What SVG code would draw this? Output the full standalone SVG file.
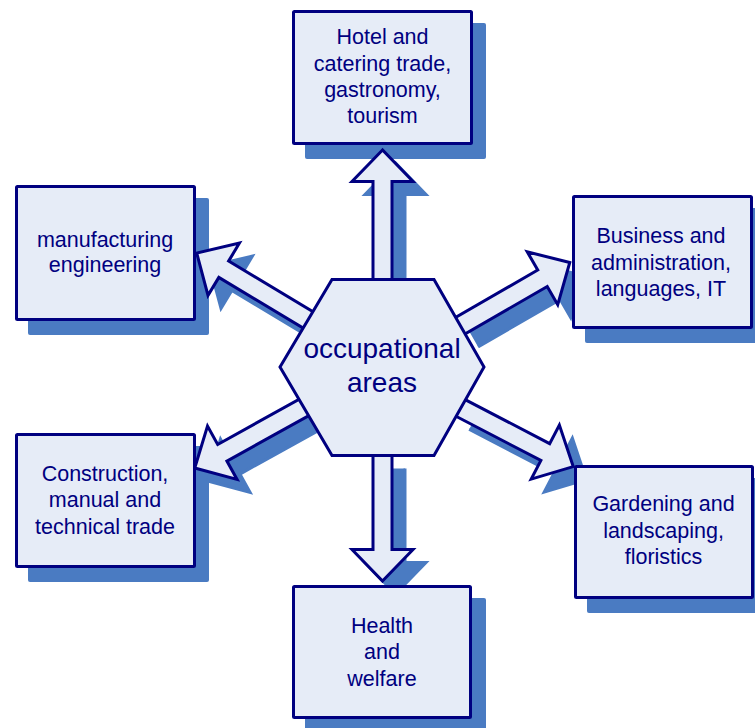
<svg xmlns="http://www.w3.org/2000/svg" xmlns:xlink="http://www.w3.org/1999/xlink" width="755" height="728" viewBox="0 0 755 728">
  <style>
    .box { fill: #E6ECF7; stroke: #000080; stroke-width: 3; }
    .bshadow { fill: #4A7BC2; }
    .arrow { fill: #E6ECF7; stroke: #000080; stroke-width: 3; stroke-linejoin: miter; }
    .ashadow { fill: #4A7BC2; stroke: #4A7BC2; stroke-width: 3; }
    .hex { fill: #E6ECF7; stroke: #000080; stroke-width: 3; stroke-linejoin: miter; }
    text { font-family: "Liberation Sans", Arial, sans-serif; fill: #000080; text-anchor: middle; }
    .lbl { font-size: 21.5px; }
    .center { font-size: 28px; }
  </style>
  <defs>
    <polygon id="arr" points="-2,0 -33.5,-30.5 -33.5,-9.5 -230,-9.5 -230,9.5 -33.5,9.5 -33.5,30.5"/>
    <clipPath id="outside" clipPathUnits="userSpaceOnUse">
      <path clip-rule="evenodd" d="M-50 -50H805V778H-50Z M280 367 L332 279.5 L434 279.5 L484 367 L434 455.5 L332 455.5 Z"/>
    </clipPath>
    <g id="arrows">
      <use xlink:href="#arr" transform="translate(382.5,148) rotate(-90)"/>
      <use xlink:href="#arr" transform="translate(382.5,583) rotate(90)"/>
      <use xlink:href="#arr" transform="translate(571.5,261.5) rotate(-30)"/>
      <use xlink:href="#arr" transform="translate(575,467.5) rotate(27.5)"/>
      <use xlink:href="#arr" transform="translate(193,469) rotate(151)"/>
      <use xlink:href="#arr" transform="translate(195,252) rotate(211)"/>
    </g>
  </defs>

  <g id="shadows">
    <rect class="bshadow" x="305" y="23" width="181" height="136" rx="2"/>
    <rect class="bshadow" x="28" y="198" width="181" height="137" rx="2"/>
    <rect class="bshadow" x="585" y="208" width="181" height="135" rx="2"/>
    <rect class="bshadow" x="28" y="446" width="181" height="136" rx="2"/>
    <rect class="bshadow" x="587" y="478" width="181" height="135" rx="2"/>
    <rect class="bshadow" x="305" y="598" width="181" height="135" rx="2"/>
  </g>

  <g id="connectors">
    <use xlink:href="#arrows" class="ashadow" clip-path="url(#outside)" transform="translate(13,13)"/>
    <use xlink:href="#arrows" class="arrow" clip-path="url(#outside)"/>
  </g>

  <g id="node-hotel">
    <rect class="box" x="293.5" y="11.5" width="178" height="132" rx="1"/>
    <text class="lbl" x="382.5" y="44">Hotel and</text>
    <text class="lbl" x="382.5" y="70.5">catering trade,</text>
    <text class="lbl" x="382.5" y="97">gastronomy,</text>
    <text class="lbl" x="382.5" y="123">tourism</text>
  </g>

  <g id="node-manufacturing">
    <rect class="box" x="16.5" y="186.5" width="178" height="133" rx="1"/>
    <text class="lbl" x="105" y="247">manufacturing</text>
    <text class="lbl" x="105" y="272">engineering</text>
  </g>

  <g id="node-business">
    <rect class="box" x="573.5" y="196.5" width="178" height="131" rx="1"/>
    <text class="lbl" x="661" y="243">Business and</text>
    <text class="lbl" x="661" y="269.5">administration,</text>
    <text class="lbl" x="661" y="295.5">languages, IT</text>
  </g>

  <g id="node-construction">
    <rect class="box" x="16.5" y="434.5" width="178" height="132" rx="1"/>
    <text class="lbl" x="105" y="480.5">Construction,</text>
    <text class="lbl" x="105" y="507">manual and</text>
    <text class="lbl" x="105" y="533.5">technical trade</text>
  </g>

  <g id="node-gardening">
    <rect class="box" x="575.5" y="466.5" width="177" height="131" rx="1"/>
    <text class="lbl" x="663.5" y="511">Gardening and</text>
    <text class="lbl" x="663.5" y="537.5">landscaping,</text>
    <text class="lbl" x="663.5" y="564">floristics</text>
  </g>

  <g id="node-health">
    <rect class="box" x="293.5" y="586.5" width="177" height="131" rx="1"/>
    <text class="lbl" x="382" y="633">Health</text>
    <text class="lbl" x="382" y="659">and</text>
    <text class="lbl" x="382" y="685.5">welfare</text>
  </g>

  <g id="node-center">
    <polygon class="hex" points="280,367 332,279.5 434,279.5 484,367 434,455.5 332,455.5"/>
    <text class="center" x="382" y="358">occupational</text>
    <text class="center" x="382" y="392">areas</text>
  </g>
</svg>
